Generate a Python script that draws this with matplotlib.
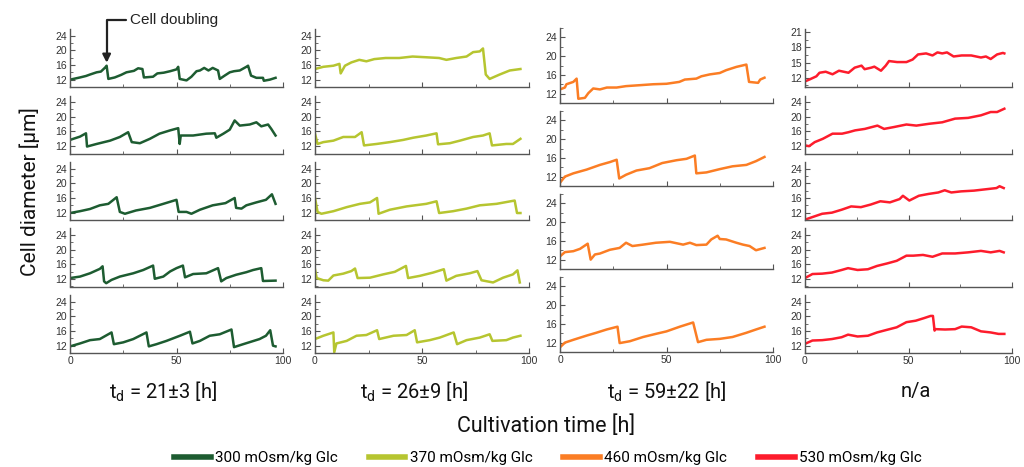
import matplotlib.pyplot as plt
from matplotlib.ticker import MultipleLocator

plt.rcParams['font.family'] = ['Roboto', 'DejaVu Sans']

# cell diameter traces, (time [h], diameter [um])
# 300 mOsm/kg Glc
g300 = [
    [(0,12.0),(4.7,12.6),(7.5,13.0),(9.4,13.4),(12.5,14.0),(14.5,14.2),(16.5,15.3),(17.2,15.8),(18,12.2),(21,12.6),(24,13.3),(26.5,14.0),(30,14.4),(32,15.1),(34,14.9),(34.7,12.6),(39,12.8),(41,13.7),(44,13.9),(47,14.3),(50,14.8),(50.8,15.5),(51.5,12.2),(54.7,11.8),(57,12.8),(59.4,14.3),(61,14.5),(63,15.2),(65,14.5),(67,15.2),(69.5,14.5),(70.3,12.2),(72.6,13.1),(75,14.0),(77,14.3),(79.7,14.5),(82.8,15.5),(83.6,15.8),(85,13.1),(87.5,12.5),(90.6,12.5),(91,11.7),(93.8,12.0),(96.5,12.5)],
    [(0,13.7),(4.7,14.6),(7.5,15.5),(8,11.9),(12.5,12.6),(18.8,13.5),(23.4,14.5),(27.3,15.8),(29,13.1),(32.8,12.8),(37.5,14.0),(42,15.4),(47,16.3),(50.8,16.9),(51.5,12.6),(52,14.9),(57.8,14.9),(64,15.4),(68,15.5),(68.7,14.3),(72,15.4),(75,16.5),(77.3,19.0),(79.7,17.6),(84.4,17.9),(87.5,18.5),(89.8,17.4),(93,17.9),(94.5,16.7),(96.5,14.9)],
    [(0,11.9),(4.7,12.4),(9.4,13.0),(14,14.0),(18,14.4),(21.9,16.2),(23.4,12.2),(25.8,11.7),(31,12.6),(37.5,13.3),(43.8,14.4),(50,15.5),(51,12.2),(54.7,12.2),(57,11.7),(61,12.8),(67,14.0),(73,14.6),(77.3,16.0),(78,13.3),(80.5,13.1),(82.8,14.0),(87.5,14.8),(92,15.5),(94.8,17.0),(96.5,14.4)],
    [(0,12.3),(4.7,12.7),(9.4,13.6),(14,14.8),(15.3,15.5),(16,11.4),(17,10.9),(19.5,11.8),(23.4,12.7),(29.7,13.6),(34.4,14.5),(39,15.7),(39.8,12.1),(43.8,12.7),(47,14.1),(50,15.0),(53,15.7),(54,12.5),(57.8,13.4),(64,13.6),(69.5,15.0),(71,11.4),(73.4,12.3),(78,13.2),(82.8,13.9),(86,14.5),(89.8,15.0),(90.6,11.5),(96.5,11.6)],
    [(0,11.8),(4.7,12.6),(9.4,13.5),(14,13.8),(19.5,15.6),(20.6,12.4),(25,12.9),(29.7,13.8),(35.9,15.6),(37,11.8),(40.6,12.4),(45.3,13.3),(51.6,14.7),(56.3,15.8),(57.5,12.6),(61,13.3),(65.6,14.7),(70.3,15.1),(75.8,16.4),(77,11.6),(81.3,12.4),(89,13.8),(92,14.7),(94,16.2),(95.3,12.0),(96.5,11.8)],
]
# 370 mOsm/kg Glc
g370 = [
    [(0,14.9),(3.9,15.5),(8.6,15.8),(11.4,16.3),(12,13.7),(14,15.8),(17,16.7),(20.7,17.4),(24,17.0),(27.7,17.6),(33,17.9),(39.4,17.9),(45.6,18.3),(52,18.1),(58,17.9),(61.4,17.4),(66,17.9),(70.8,18.3),(73.9,19.5),(77,19.7),(78.5,20.5),(79.8,13.4),(81.6,12.2),(86.3,13.4),(91,14.5),(96,14.9)],
    [(0,15.4),(1.2,12.6),(3.9,13.1),(8.6,13.5),(13.2,14.5),(18.7,14.5),(21.8,15.8),(22.9,12.2),(28.8,12.6),(35,13.1),(41.2,13.7),(45.9,14.3),(52,14.9),(56.8,15.5),(57.5,12.5),(63,12.8),(67.7,13.5),(73.9,14.5),(78.5,14.9),(81.6,15.5),(82.7,12.2),(89.4,12.6),(92.5,12.6),(96,14.0)],
    [(0,16.0),(1.2,12.2),(3,11.7),(8.6,12.4),(14.8,13.5),(21,14.4),(25.7,14.8),(29,16.0),(29.7,11.7),(35,12.8),(42.8,13.7),(52,14.4),(56.8,15.1),(58,11.9),(64.5,12.4),(70.8,13.1),(77,14.0),(84.8,14.4),(93.3,15.3),(94.4,11.9),(96,11.9)],
    [(0,14.7),(0.8,12.3),(3.9,11.7),(6.2,11.6),(8.6,13.0),(13.2,13.5),(17,14.2),(18.7,14.9),(19.9,12.3),(25.7,12.4),(31.9,13.3),(37.3,14.0),(42.5,15.6),(43.5,12.3),(49,12.9),(55.2,13.8),(60.2,14.7),(61.4,11.6),(66,12.9),(72.3,13.6),(75.9,14.2),(77.8,11.7),(83.2,11.1),(87.9,12.4),(92.5,13.3),(94.6,14.4),(95.7,11.1)],
    [(0,13.8),(3.9,14.7),(8.6,15.6),(9,10.2),(10,12.6),(14.8,13.3),(19.4,14.7),(24,14.9),(29,16.2),(30,13.8),(36.7,14.7),(42.8,14.9),(46.6,16.2),(47.7,12.9),(53.6,13.5),(58.3,14.2),(64.8,15.6),(66.4,12.4),(70.8,13.5),(77,14.2),(81.6,15.1),(82.9,13.3),(89.4,13.5),(92.5,14.2),(96,14.7)],
]
# 460 mOsm/kg Glc
g460 = [
    [(0,12.9),(2.3,13.3),(3,14.0),(6.25,14.5),(7.8,15.2),(8.6,10.9),(11.7,11.1),(13.3,12.1),(15.6,13.1),(18.75,12.9),(22,13.3),(26.6,13.3),(31,13.6),(37.5,13.8),(43.75,14.0),(50,14.1),(56,14.5),(58.6,15.0),(64,15.2),(66.4,15.7),(70.3,16.1),(75,16.4),(78,17.0),(82.8,17.7),(87.5,18.2),(88.75,14.5),(93,14.3),(94,15.0),(96,15.4)],
    [(0,10.7),(2.3,12.0),(6.25,12.7),(12.5,13.5),(18.75,14.5),(23.4,15.1),(26.6,15.6),(27.8,11.6),(31,12.4),(35.9,13.3),(42,13.8),(48,14.9),(54.7,15.5),(59.4,15.8),(63.3,16.5),(64,12.7),(68.75,12.9),(75,13.6),(81,14.2),(87.5,14.5),(92,15.3),(96,16.2)],
    [(0,12.7),(2.3,13.6),(6.25,13.8),(9.4,14.3),(13,15.4),(14.4,12.0),(16.4,13.1),(18.75,13.3),(23.4,14.1),(28,14.5),(31,15.6),(34,14.9),(39,15.2),(45,15.6),(51.6,15.8),(57.8,15.2),(61,15.6),(64,15.1),(68.75,15.2),(71,16.3),(74,17.1),(75,16.4),(78,16.3),(82.8,15.6),(85.9,15.2),(89,14.9),(92,14.0),(96,14.5)],
    [(0,11.0),(2.3,12.0),(6.25,12.6),(12.5,13.5),(17,14.1),(21.9,14.8),(27,15.4),(28,11.9),(32.8,12.3),(39,13.2),(45.3,13.9),(50,14.4),(56.25,15.4),(62.5,16.3),(64.8,12.1),(68.75,12.6),(75,12.8),(81,13.2),(87.5,14.1),(92,14.8),(96,15.4)],
]
# 530 mOsm/kg Glc
g530 = [
    [(0,11.3),(2.3,11.7),(5.5,12.3),(7,13.0),(10,13.2),(13.3,12.7),(16.4,13.4),(21,13.0),(24,14.0),(27.3,14.4),(28.8,13.7),(32,14.0),(33.5,14.2),(36.7,13.4),(39,14.4),(40.6,15.3),(44.5,15.1),(49,15.1),(52,15.6),(54.6,16.6),(58.5,16.8),(61.6,16.4),(64,17.0),(66.3,16.8),(68.6,17.0),(71.8,16.2),(75.7,16.4),(80.3,16.4),(85,16.0),(87.4,16.2),(89.7,15.7),(92.8,16.6),(95.6,16.9),(96.3,16.8)],
    [(0,12.2),(2,12.0),(4.7,13.1),(8.6,14.0),(13.3,15.4),(17.9,15.4),(21,15.8),(24.2,16.3),(28.9,16.7),(35,17.6),(38.2,16.7),(42.9,17.2),(49,17.9),(53.8,17.6),(60,18.1),(66.3,18.5),(72.5,19.5),(78.8,19.7),(85,20.4),(89.7,21.3),(92.8,21.3),(96.3,22.2)],
    [(0,10.1),(3.6,10.8),(8.3,11.7),(13,12.0),(17.7,12.8),(22.3,13.7),(27,13.5),(31.7,14.2),(36.4,15.1),(41,14.8),(45.7,15.7),(47.3,16.6),(50.4,15.3),(55,16.6),(59.7,17.1),(64.4,17.5),(67.5,18.1),(70.7,17.5),(75.4,17.8),(81.6,18.0),(87.8,18.4),(92.5,18.7),(94,19.2),(96,18.7)],
    [(0,12.3),(3.6,13.4),(8.3,13.5),(13,13.8),(17.7,14.5),(20.8,15.0),(25.4,14.5),(30.4,14.7),(34.8,15.6),(39.8,16.3),(44.3,17.0),(49,18.4),(52.3,18.4),(57,18.6),(61.6,18.1),(66.3,19.0),(72.5,19.0),(78.8,19.3),(85,19.7),(89.7,19.3),(94,19.7),(96,19.3)],
    [(0,12.5),(3.6,13.4),(8.3,13.5),(13,13.8),(17.7,14.3),(20.8,15.0),(25.4,14.5),(30.4,14.7),(34.8,15.6),(39.5,16.3),(44.3,17.0),(49,18.4),(53.5,18.8),(57.5,19.5),(60.7,20.1),(61.8,20.1),(62.6,16.1),(63,16.5),(67.7,16.4),(72.5,16.5),(75.7,17.2),(80.3,17.0),(85,15.9),(89.7,15.6),(93.5,15.2),(96.3,15.2)],
]

groups = [g300, g370, g460, g530]
labels = ['300 mOsm/kg Glc', '370 mOsm/kg Glc', '460 mOsm/kg Glc', '530 mOsm/kg Glc']
colors = ['#1d5c31', '#b6c530', '#fb7d24', '#fd1c2c']
col_titles = ['t$_\\mathregular{d}$ = 21±3 [h]', 't$_\\mathregular{d}$ = 26±9 [h]',
              't$_\\mathregular{d}$ = 59±22 [h]', 'n/a']

fig = plt.figure(figsize=(10.24, 4.67), dpi=100)
W, H = 1024, 467


def add_ax(left, top, w, h):
    return fig.add_axes([left / W, 1 - (top + h) / H, w / W, h / H])


col_left = [70, 315, 560, 805]
col_width = [213, 214, 213, 207]
title_x = [163, 414, 667, 916]
handles = []
first_ax = None
for c, traces in enumerate(groups):
    n = len(traces)
    if n == 5:
        tops = [29 + i * 66.5 for i in range(5)]
        h = 58
    else:
        tops = [28 + i * 83 for i in range(4)]
        h = 75
    for r, tr in enumerate(traces):
        ax = add_ax(col_left[c], tops[r], col_width[c], h)
        t = [p[0] for p in tr]
        d = [p[1] for p in tr]
        ln, = ax.plot(t, d, color=colors[c], lw=1.8, label=labels[c])
        if r == 0:
            handles.append(ln)
        if c == 0 and r == 0:
            first_ax = ax
        ax.set_xlim(0, 100)
        ax.xaxis.set_major_locator(MultipleLocator(50))
        ax.xaxis.set_minor_locator(MultipleLocator(25))
        if c == 3 and r == 0:
            ax.set_ylim(10.2, 21.6)
            ax.yaxis.set_major_locator(MultipleLocator(3))
            ax.yaxis.set_minor_locator(MultipleLocator(1.5))
        else:
            ax.set_ylim(10, 25.8 if n == 5 else 26)
            ax.yaxis.set_major_locator(MultipleLocator(4))
            ax.yaxis.set_minor_locator(MultipleLocator(2))
            ax.set_yticks([12, 16, 20, 24])
        for s in ['top', 'right']:
            ax.spines[s].set_visible(False)
        for s in ['left', 'bottom']:
            ax.spines[s].set_color('#555555')
            ax.spines[s].set_linewidth(1.0)
        ax.tick_params(which='both', direction='in', colors='#555555',
                       labelcolor='#333333', labelsize=7.5, pad=2)
        ax.tick_params(which='major', length=3.5, width=0.8)
        ax.tick_params(which='minor', length=2, width=0.6)
        for lbl in ax.get_xticklabels() + ax.get_yticklabels():
            lbl.set_family(['Liberation Sans', 'DejaVu Sans'])
        if r != n - 1:
            ax.tick_params(axis='x', labelbottom=False)
    fig.text(title_x[c] / W, 1 - 392 / H, col_titles[c], ha='center', va='center',
             fontsize=14.5, color='#111111')

fig.text(30 / W, 1 - 192 / H, 'Cell diameter [µm]', rotation=90, ha='center',
         va='center', fontsize=15, color='#111111')
fig.text(546 / W, 1 - 426 / H, 'Cultivation time [h]', ha='center', va='center',
         fontsize=15.5, color='#111111')

first_ax.annotate('Cell doubling', xy=(17.2, 16.6), xycoords='data',
                  xytext=(130 / W, 1 - 20 / H), textcoords='figure fraction',
                  ha='left', va='center', fontsize=11, color='#222222',
                  family=['Liberation Sans', 'DejaVu Sans'],
                  arrowprops=dict(arrowstyle='-|>', color='#222222', lw=1.6,
                                  connectionstyle='angle,angleA=0,angleB=90,rad=0',
                                  relpos=(0, 0.5), shrinkA=1, shrinkB=0,
                                  mutation_scale=12))

leg = fig.legend(handles, labels, loc='center', bbox_to_anchor=(548 / W, 1 - 458 / H),
                 ncol=4, frameon=False, fontsize=11, handlelength=2.4,
                 handletextpad=0.3, columnspacing=2.0)
for l in leg.get_lines():
    l.set_linewidth(4)

fig.savefig('out.png', dpi=100)
